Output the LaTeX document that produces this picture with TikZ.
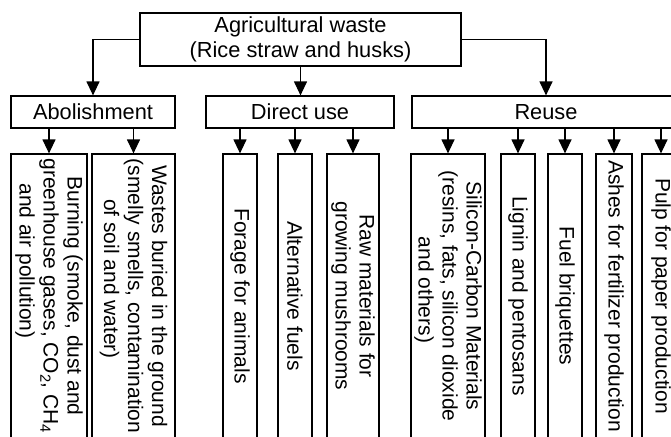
\documentclass[tikz,border=0pt]{standalone}
\usepackage{fontspec}
\setmainfont{Liberation Sans}
\usetikzlibrary{arrows.meta}
\begin{document}
\begin{tikzpicture}[x=1pt,y=-1pt,
  box/.style={draw, line width=1.2pt, inner sep=0pt, align=center, font=\fontsize{21.8}{25}\selectfont},
  leaf/.style={box, rotate=-90, minimum width=284pt, font=\fontsize{21}{24}\selectfont},
  arr/.style={line width=1.2pt, -{Triangle[width=13pt,length=14pt]}}]
\useasboundingbox (0,0) rectangle (671,436);
\clip (0,0) rectangle (671,436);
% top level
\node[box, minimum width=321pt, minimum height=53pt] (top) at (300.5,39.5) {Agricultural waste\\(Rice straw and husks)};
% second level
\node[box, minimum width=164pt, minimum height=32pt] (abol) at (93,112) {Abolishment};
\node[box, minimum width=188pt, minimum height=32pt] (direct) at (300,112) {Direct use};
\node[box, minimum width=268pt, minimum height=32pt] (reuse) at (546,112) {Reuse};
% third level
\node[leaf, minimum height=76pt] (burn) at (49,296) {Burning (smoke, dust and\\greenhouse gases, CO\textsubscript{2}, CH\textsubscript{4}\\and air pollution)\hspace*{70pt}};
\node[leaf, minimum height=83pt] (bury) at (133.5,296) {Wastes buried in the ground\\(smelly smells, contamination\\of soil and water)\hspace*{34pt}};
\node[leaf, minimum height=34pt] (forage) at (240,296) {Forage for animals};
\node[leaf, minimum height=34pt] (alt) at (295,296) {Alternative fuels};
\node[leaf, minimum height=52pt] (raw) at (353,296) {Raw materials for\\growing mushrooms};
\node[leaf, minimum height=74pt] (sil) at (448,296) {Silicon-Carbon Materials\\(resins, fats, silicon dioxide\\and others)\hspace*{12pt}};
\node[leaf, minimum height=34pt] (lig) at (518,296) {Lignin and pentosans};
\node[leaf, minimum height=34pt] (fuel) at (565,296) {Fuel briquettes};
\node[leaf, minimum height=36pt] (ash) at (614,296) {Ashes for fertilizer production};
\node[leaf, minimum height=38pt] (pulp) at (661,296) {Pulp for paper production};
% connectors from top
\draw[arr] (top.west) -| (abol.north);
\draw[arr] (top.south) -- (top.south |- direct.north);
\draw[arr] (top.east) -| (reuse.north);
% connectors to leaves
\foreach \p/\c in {abol/burn, abol/bury, direct/forage, direct/alt, direct/raw, reuse/sil, reuse/lig, reuse/fuel, reuse/ash, reuse/pulp}
  \draw[arr] (\p.south -| \c.west) -- (\c.west);
\end{tikzpicture}
\end{document}
